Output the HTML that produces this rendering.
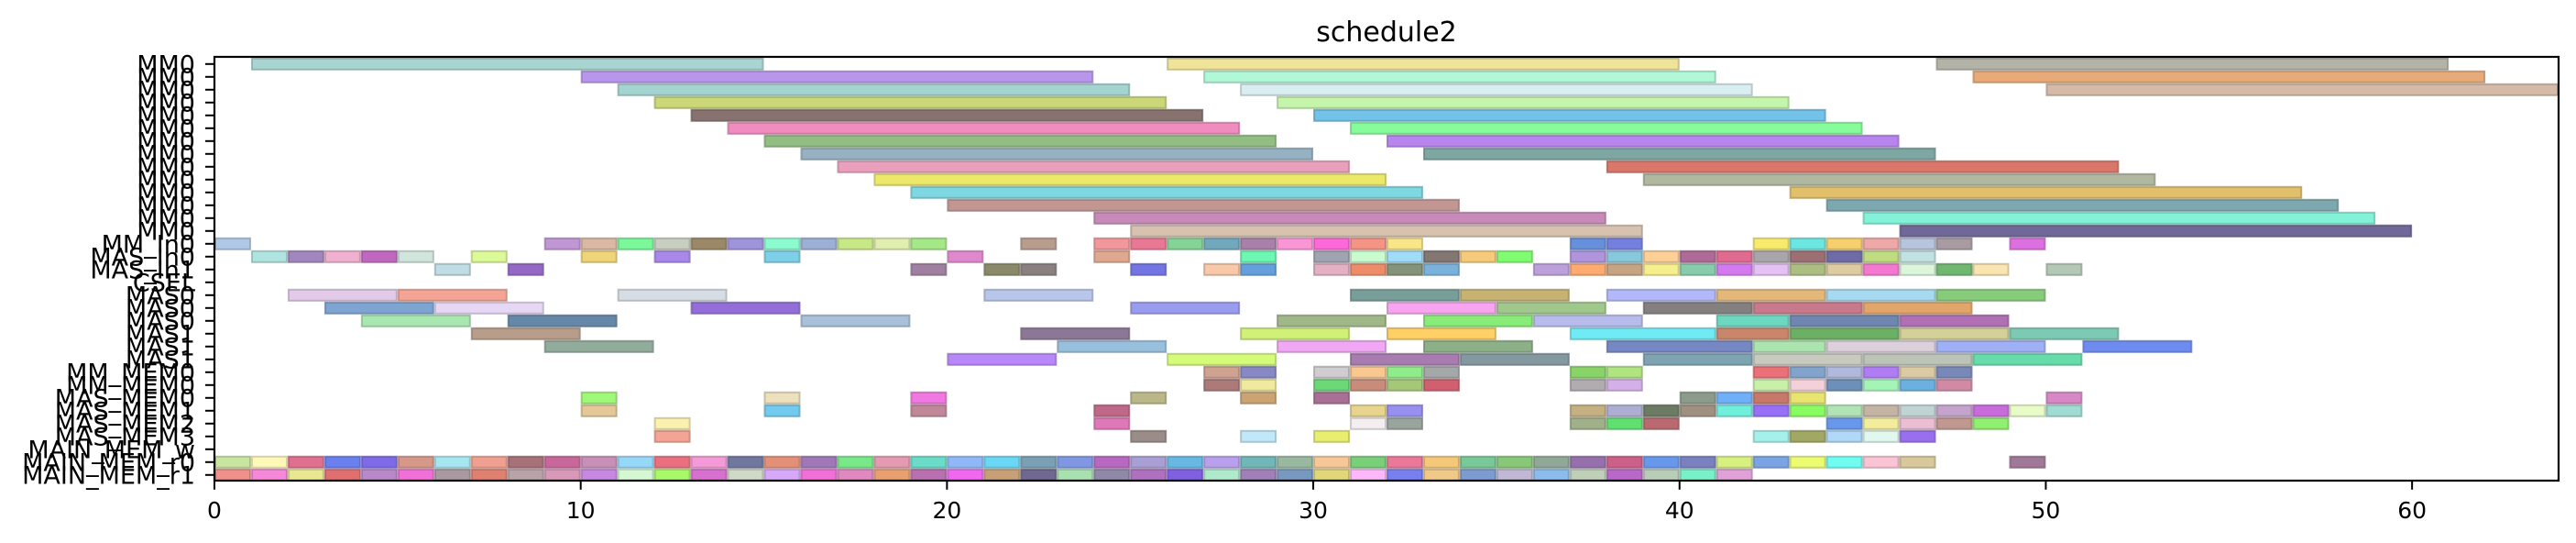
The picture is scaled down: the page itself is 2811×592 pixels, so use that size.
<!DOCTYPE html>
<html><head><meta charset="utf-8"><style>
html,body{margin:0;padding:0;background:#fff;}
svg{display:block;font-family:"DejaVu Sans","Liberation Sans",sans-serif;}
</style></head><body>
<svg id="chart" width="2811" height="592" viewBox="0 0 2811 592" xmlns="http://www.w3.org/2000/svg">
<text x="1513" y="45" font-size="30" text-anchor="middle" fill="#000">schedule2</text>
<g id="bars"></g>
<g id="axes"></g>
</svg>
<script>
const rowLabels = ["MM0","MM0","MM0","MM0","MM0","MM0","MM0","MM0","MM0","MM0","MM0","MM0","MM0","MM0","MM_In0","MAS_In0","MAS_In1","CSEL","MAS0","MAS0","MAS0","MAS1","MAS1","MAS1","MM_MEM0","MM_MEM0","MAS_MEM0","MAS_MEM1","MAS_MEM2","MAS_MEM3","MAIN_MEM_w","MAIN_MEM_r0","MAIN_MEM_r1"];
const xTicks = [0,10,20,30,40,50,60];
const xMin = 0, xMax = 64;

const longRows = [0,0,0,1,1,1,2,2,2,3,3,4,4,5,5,6,6,7,7,8,8,9,9,10,10,11,11,12,12,13,13];
const longStarts = [1,26,47,10,27,48,11,28,50,12,29,13,30,14,31,15,32,16,33,17,38,18,39,19,43,20,44,24,45,25,46];
const longEnds = [15,40,61,24,41,62,25,42,64,26,43,27,44,28,45,29,46,30,47,31,52,32,53,33,57,34,58,38,59,39,60];
const longColors = ["#a8d5d1","#f0e49a","#b3b3a8","#b896ec","#b0f8d8","#e8aa78","#a3d4d0","#d8eef0","#d6baa8","#ccd878","#c4f5aa","#87726f","#72c2ea","#f08cbe","#86fc9a","#92be84","#b884ee","#96b2c2","#7ea6a2","#eaa0bc","#da766a","#ece86a","#b0b8a0","#7ed8e2","#e2c06a","#c29692","#7ea8b0","#c88ab8","#82f2d8","#d6c2ae","#706898"];

// unit-length tasks: row -> starts, colors
const row14Starts = [0,9,10,11,12,13,14,15,16,17,18,19,22,24,25,26,27,28,29,30,31,32,37,38,42,43,44,45,46,47,49];
const row14Colors = ["#b0c8e8","#c096d4","#dab8a4","#7af89a","#c8cec0","#9a8866","#9e94dc","#8cfcd0","#9cb0d6","#c8e888","#e0eeb0","#a4e888","#b89c8e","#f2989c","#e87894","#84d498","#72a8bc","#a880a8","#fa96d6","#fe68d8","#f49484","#f8e688","#6690dc","#7480e0","#f8ea6a","#6ce6e0","#f6d06c","#eea8a8","#b8c4dc","#a89ca2","#dc70e0"];
const row15Starts = [1,2,3,4,5,7,10,12,15,20,24,28,30,31,32,33,34,35,37,38,39,40,41,42,43,44,45,46];
const row15Colors = ["#b0e4e0","#a286be","#f0b0d0","#c068c0","#d0e6dc","#dcfa98","#f0d478","#a888e8","#7ed0e8","#e088cc","#e0a890","#6cf8b0","#a0a4b0","#c8fcd0","#9edcf8","#847672","#f6ca7a","#80fc70","#b094dc","#88c8dc","#fed096","#b06a98","#e06a90","#a8a6aa","#9c7072","#6e6ca6","#c0dc80","#c0e2e2"];
const row16Starts = [6,8,19,21,22,25,27,28,30,31,32,33,36,37,38,39,40,41,42,43,44,45,46,47,48,50];
const row16Colors = ["#c0dce4","#9468c4","#a080a0","#8a8a6a","#8a8080","#7474e4","#f8c8a8","#66a0dc","#e4b0c4","#ee8c6a","#84947a","#7ab2dc","#bca0dc","#feaa70","#c6a482","#f6f08c","#88ccac","#d47af0","#e4c0f4","#acbe80","#dccca0","#f478d0","#dcf6dc","#70b870","#fae4b0","#b4c8b6"];
const row24Starts = [27,28,30,31,32,33,37,38,42,43,44,45,46,47];
const row24Colors = ["#d0a290","#8888c4","#d0ccd0","#f8c890","#90ec88","#a4a8a8","#88d468","#b0e480","#ec7078","#82a4cc","#b0b8dc","#b07cf4","#dccaa4","#7888b8"];
const row25Starts = [27,28,30,31,32,33,37,38,42,43,44,45,46,47];
const row25Colors = ["#ac7a78","#f0ea9c","#6cd878","#c88c7a","#a4c878","#d06070","#b0acb0","#d4b0e8","#c8f0a8","#f4d0d8","#6c90b8","#a4f4b8","#6cb0e0","#d08aa4"];
const row26Starts = [10,15,19,25,28,30,40,41,42,43,50];
const row26Colors = ["#a0f878","#ede0bc","#f078e0","#bab888","#cca474","#a87094","#8c9c8c","#70b0f8","#c87868","#e8e470","#d888c4"];
const row27Starts = [10,15,19,24,31,32,37,38,39,40,41,42,43,44,45,46,47,48,49,50];
const row27Colors = ["#e4c898","#72cbee","#c08898","#c06888","#e8d48c","#9890f0","#c4b080","#aeaed4","#6c7c64","#a09080","#70f0dc","#9870f8","#88fc60","#b0e4b4","#c4b4a4","#c0d4d4","#c4a4cc","#c86cdc","#e8fcc8","#a0dcd4"];
const row28Starts = [12,24,31,32,37,38,39,44,45,46,47,48];
const row28Colors = ["#faf0b0","#e078b8","#f4eef0","#98a49c","#a0b088","#60e070","#b86a70","#6898ec","#f2ec9c","#ecbed4","#c09890","#90f070"];
const row29Starts = [12,25,28,30,42,43,44,45,46];
const row29Colors = ["#f4a494","#9a8c88","#c0e8f8","#e8ee70","#a6f0ec","#a0a864","#b0d8f8","#e0f8ee","#9870ee"];
const row31Starts = [0,1,2,3,4,5,6,7,8,9,10,11,12,13,14,15,16,17,18,19,20,21,22,23,24,25,26,27,28,29,30,31,32,33,34,35,36,37,38,39,40,41,42,43,44,45,46,49];
const row31Colors = ["#c8e6a0","#fff9b8","#e07090","#6a7ff0","#7f6ae8","#d69888","#a6e6f0","#f0a090","#a87078","#c8689a","#c890b8","#96d8f8","#ea7080","#f59ad8","#7078a0","#e49078","#a078b8","#78e888","#e49ab0","#6adcc8","#90b8f8","#6ad8f4","#7aa0b4","#8098e4","#b868c0","#a8a0d4","#68b8e4","#b8a0ec","#70b8b8","#98b8a0","#f6c898","#7ad078","#ea7898","#f4c878","#78c898","#88c878","#90a898","#9670ac","#cc6088","#6898ec","#7a80c0","#d8f080","#7aa4e4","#ecfc70","#70fcf0","#fac4d4","#d8c89c","#a07898"];
const row32Starts = [0,1,2,3,4,5,6,7,8,9,10,11,12,13,14,15,16,17,18,19,20,21,22,23,24,25,26,27,28,29,30,31,32,33,34,35,36,37,38,39,40,41];
const row32Colors = ["#f0908a","#f588d8","#e8e890","#e07070","#b888c8","#f070d8","#a89aa0","#e08070","#b8a4a8","#d898b8","#c888e0","#d4f8d4","#a8f868","#d870d0","#d0d8c8","#d8a8f8","#f070d8","#e088c0","#e8a070","#b870b0","#f068f0","#c8a078","#706890","#a8e0b0","#9088a8","#b070c0","#8060e0","#b0eacc","#a080b8","#7898c0","#e0d878","#fcb8f8","#7880f0","#f0c888","#7c9cd0","#c0b8d4","#8cbcec","#c0d0b8","#b868c8","#b8ccb8","#78f0c8","#e0a0d8"];

// three-unit tasks (MAS rows)
const masRows = [18,18,18,18,18,18,18,18,18,18,19,19,19,19,19,19,19,19,19,20,20,20,20,20,20,20,20,20,21,21,21,21,21,21,21,21,21,22,22,22,22,22,22,22,22,22,23,23,23,23,23,23,23,23];
const masStarts = [2,5,11,21,31,34,38,41,44,47,3,6,13,25,32,35,39,42,45,4,8,16,29,33,36,41,43,46,7,22,28,32,37,41,43,46,49,9,23,29,33,38,42,44,47,51,20,26,31,34,39,42,45,48];
const masEnds = [5,8,14,24,34,37,41,44,47,50,6,9,16,28,35,38,42,45,48,7,11,19,32,36,39,43,46,49,10,25,31,35,41,43,46,49,52,12,26,32,36,42,44,47,50,54,23,29,34,37,42,45,48,51];
const masColors = ["#e2cae8","#f4a494","#d6dde4","#b8c6ea","#789e9a","#c6b272","#b2b8fa","#e4b87a","#a6daf0","#86cc7a","#7ea4d2","#e6d8f4","#946ed8","#9a9cf0","#f8a4f0","#a0c88c","#848080","#c87a8c","#e2a66a","#a8e8b0","#6688a8","#a8c0da","#a0b888","#88ec78","#b8bcec","#6cd8c0","#6e86b0","#b070b4","#b89e8a","#8c7896","#d0f078","#fed066","#70eaf4","#c8866a","#6cb064","#d4d098","#7ccab4","#92ac9c","#98c0dc","#f0a8f4","#8cb088","#7688c4","#ace4b0","#dcd0dc","#a0b0f6","#6e8cf0","#b888f8","#d4fc78","#a87cb0","#8498a0","#7ea4b2","#c8cac0","#bcc4b8","#66dcaa"];

const plotL = 234, plotR = 2792, plotT = 62.8, plotB = 524.8;
const rowH = (plotB - plotT) / rowLabels.length;
function xs(v){ return plotL + (v - xMin) / (xMax - xMin) * (plotR - plotL); }
function ys(r){ return plotT + r * rowH; }
function darker(hex){
  const n = parseInt(hex.slice(1),16);
  const f = 0.78;
  const r = Math.round(((n>>16)&255)*f), g = Math.round(((n>>8)&255)*f), b = Math.round((n&255)*f);
  return "rgb("+r+","+g+","+b+")";
}
const NS = "http://www.w3.org/2000/svg";
const barsG = document.getElementById("bars");
function addBar(row, s, e, color){
  const rect = document.createElementNS(NS,"rect");
  
  
  rect.setAttribute("x", xs(s) + 1);
  rect.setAttribute("y", ys(row) + 1);
  rect.setAttribute("width", Math.max(0, xs(e) - xs(s) - 2));
  rect.setAttribute("height", rowH - 2);
  rect.setAttribute("fill", color);
  rect.setAttribute("stroke", darker(color));
  rect.setAttribute("stroke-opacity", "0.75");
  rect.setAttribute("stroke-width", "2");
  barsG.appendChild(rect);
}
longRows.forEach((r,i)=>addBar(r, longStarts[i], longEnds[i], longColors[i]));
masRows.forEach((r,i)=>addBar(r, masStarts[i], masEnds[i], masColors[i]));
const unitSets = [[14,row14Starts,row14Colors],[15,row15Starts,row15Colors],[16,row16Starts,row16Colors],[24,row24Starts,row24Colors],[25,row25Starts,row25Colors],[26,row26Starts,row26Colors],[27,row27Starts,row27Colors],[28,row28Starts,row28Colors],[29,row29Starts,row29Colors],[31,row31Starts,row31Colors],[32,row32Starts,row32Colors]];
unitSets.forEach(set=>{ set[1].forEach((s,i)=>addBar(set[0], s, s+1, set[2][i])); });

const axesG = document.getElementById("axes");
const frame = document.createElementNS(NS,"rect");


frame.setAttribute("x", plotL); frame.setAttribute("y", plotT - 0.8);
frame.setAttribute("width", plotR - plotL); frame.setAttribute("height", plotB - plotT);
frame.setAttribute("fill","none"); frame.setAttribute("stroke","#000"); frame.setAttribute("stroke-width","2.2");
axesG.appendChild(frame);
xTicks.forEach(t=>{
  const ln = document.createElementNS(NS,"line");
  
  
  ln.setAttribute("x1", xs(t)); ln.setAttribute("x2", xs(t));
  ln.setAttribute("y1", plotB - 0.8); ln.setAttribute("y2", plotB + 9);
  ln.setAttribute("stroke","#000"); ln.setAttribute("stroke-width","2");
  axesG.appendChild(ln);
  const tx = document.createElementNS(NS,"text");
  
  
  tx.setAttribute("x", xs(t)); tx.setAttribute("y", 565);
  tx.setAttribute("font-size","25"); tx.setAttribute("text-anchor","middle");
  tx.textContent = String(t);
  axesG.appendChild(tx);
});
rowLabels.forEach((lab,i)=>{
  const yc = ys(i) + rowH/2;
  const ln = document.createElementNS(NS,"line");
  
  
  ln.setAttribute("x1", plotL - 10); ln.setAttribute("x2", plotL);
  ln.setAttribute("y1", yc); ln.setAttribute("y2", yc);
  ln.setAttribute("stroke","#000"); ln.setAttribute("stroke-width","2");
  axesG.appendChild(ln);
  const tx = document.createElementNS(NS,"text");
  
  
  tx.setAttribute("x", plotL - 21); tx.setAttribute("y", yc + 9.5);
  tx.setAttribute("font-size","27"); tx.setAttribute("text-anchor","end");
  tx.textContent = lab;
  axesG.appendChild(tx);
});
</script>
</body></html>
